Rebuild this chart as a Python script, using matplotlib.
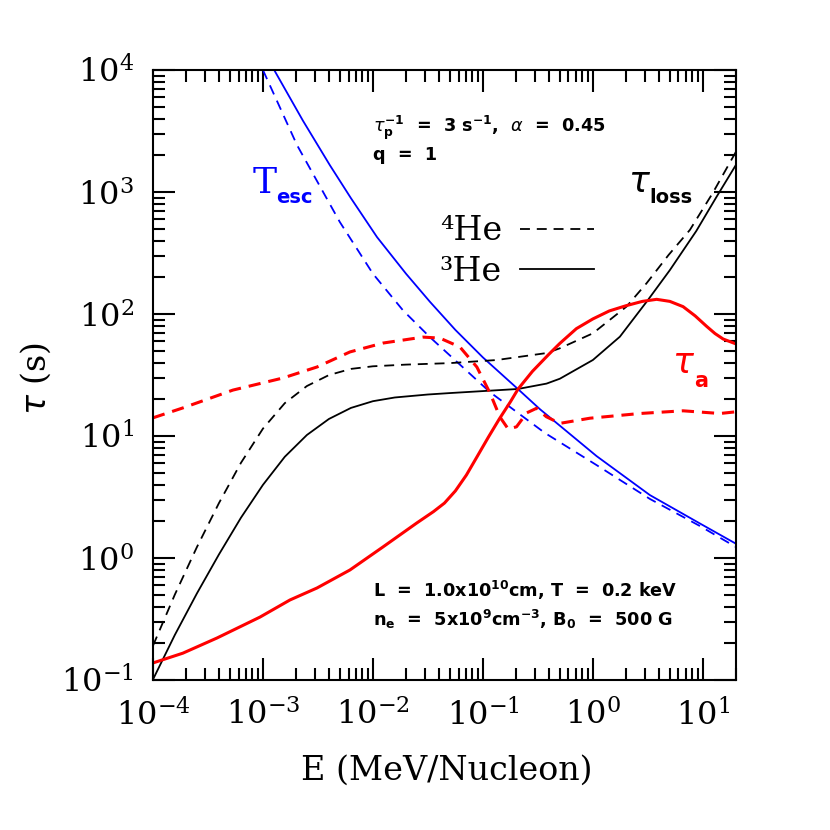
import numpy as np
import matplotlib.pyplot as plt
from matplotlib.lines import Line2D
from matplotlib.ticker import LogLocator, NullFormatter

plt.rcParams['font.family'] = 'DejaVu Serif'
plt.rcParams['mathtext.fontset'] = 'dejavusans'

# escape time T_esc (blue)
e_esc3 = [1.23e-3, 2.31e-3, 4.06e-3, 6.31e-3, 1.09e-2, 2.0e-2, 3.30e-2, 5.62e-2, 0.10, 0.208,
          0.330, 1.08, 3.30, 9.4, 20.0]
tau_esc3 = [10470, 3846, 1660, 891, 427, 214, 126, 74.1, 44.1, 24.3,
            16.6, 6.85, 3.28, 1.92, 1.31]
e_esc4 = [1.0e-3, 2.04e-3, 5.0e-3, 1.0e-2, 1.88e-2, 3.30e-2, 0.116, 0.366, 1.08, 3.30, 9.4, 20.0]
tau_esc4 = [1.0e4, 2427, 568, 214, 107, 64.6, 22.9, 10.6, 5.78, 3.05, 1.83, 1.23]

# loss time tau_loss (black)
e_loss3 = [1.0e-4, 1.58e-4, 2.51e-4, 3.98e-4, 6.31e-4, 1.0e-3, 1.58e-3, 2.51e-3, 3.98e-3, 6.31e-3,
           1.0e-2, 1.58e-2, 3.16e-2, 5.01e-2, 0.208, 0.379, 0.501, 1.0, 1.76, 3.16,
           5.01, 8.71, 13.3, 20.0]
tau_loss3 = [0.101, 0.234, 0.513, 1.07, 2.14, 3.98, 6.76, 10.2, 13.8, 17.0,
             19.3, 20.7, 21.9, 22.5, 24.3, 26.9, 29.5, 42.0, 65.2, 130,
             229, 479, 912, 1670]
e_loss4 = [1.0e-4, 1.58e-4, 2.51e-4, 3.98e-4, 6.31e-4, 1.0e-3, 1.58e-3, 2.51e-3, 3.98e-3, 6.31e-3,
           1.0e-2, 2.0e-2, 5.01e-2, 0.134, 0.38, 0.501, 1.0, 2.02, 3.08, 4.88,
           7.62, 12.3, 20.0]
tau_loss4 = [0.191, 0.501, 1.23, 2.82, 6.03, 11.5, 18.6, 25.7, 31.6, 35.5,
             37.3, 38.5, 39.6, 42.0, 47.9, 52.4, 69.5, 115, 179, 305,
             489, 982, 2140]

# acceleration time tau_a (red)
e_acc3 = [1.0e-4, 1.87e-4, 3.82e-4, 9.4e-4, 1.76e-3, 3.10e-3, 6.18e-3, 1.23e-2, 2.51e-2, 3.55e-2,
          4.47e-2, 5.62e-2, 7.08e-2, 8.91e-2, 0.112, 0.141, 0.178, 0.209, 0.282, 0.398,
          0.501, 0.708, 1.0, 1.41, 2.0, 2.82, 3.80, 5.01, 6.61, 8.51, 10.8, 12.9, 15.3, 20.0]
tau_acc3 = [0.138, 0.166, 0.221, 0.328, 0.453, 0.568, 0.798, 1.23, 1.94, 2.40,
            2.82, 3.55, 4.79, 6.84, 9.77, 13.8, 19.1, 24.3, 33.9, 46.8,
            57.5, 75.9, 91.2, 106, 117, 127, 132, 127, 115, 96.6, 79.4, 69.2, 62.4, 56.9]
e_acc4 = [1.0e-4, 1.87e-4, 5.33e-4, 1.52e-3, 3.10e-3, 6.18e-3, 1.23e-2, 2.85e-2, 4.06e-2, 6.18e-2,
          8.81e-2, 0.116, 0.143, 0.170, 0.202, 0.251, 0.308, 0.377, 0.501, 0.94, 2.67, 6.6, 14.3, 20.0]
tau_acc4 = [14.1, 17.0, 23.8, 29.9, 36.8, 48.9, 57.8, 64.7, 63.5, 53.7,
            36.8, 22.5, 14.3, 11.4, 11.9, 15.5, 16.9, 14.4, 12.7, 14.0, 15.3, 16.1, 15.3, 15.8]

fig = plt.figure(figsize=(8.3, 8.3), dpi=100)
ax = fig.add_axes([0.1843, 0.1807, 0.7024, 0.7349])
ax.set_xscale('log')
ax.set_yscale('log')

ax.plot(e_esc3, tau_esc3, color='blue', lw=1.3)
ax.plot(e_esc4, tau_esc4, color='blue', lw=1.3, dashes=(5.5, 3.8))
ax.plot(e_loss3, tau_loss3, color='black', lw=1.3)
ax.plot(e_loss4, tau_loss4, color='black', lw=1.3, dashes=(5.5, 3.8))
ax.plot(e_acc3, tau_acc3, color='red', lw=2.2)
ax.plot(e_acc4, tau_acc4, color='red', lw=2.2, dashes=(4.0, 2.6))

ax.set_xlim(1e-4, 20)
ax.set_ylim(0.1, 1e4)

for axis in (ax.xaxis, ax.yaxis):
    axis.set_major_locator(LogLocator(base=10, numticks=20))
    axis.set_minor_locator(LogLocator(base=10, subs=np.arange(2, 10), numticks=50))
    axis.set_minor_formatter(NullFormatter())

ax.tick_params(which='both', direction='in', top=True, right=True, width=1.5, color='black')
ax.tick_params(which='major', length=16, pad=14, labelsize=23)
ax.tick_params(which='minor', length=8.5)
for s in ax.spines.values():
    s.set_linewidth(1.5)

ax.set_xlabel('E (MeV/Nucleon)', fontsize=24)
ax.xaxis.set_label_coords(0.504, -0.122)
ax.set_ylabel(r'$\tau$ (s)', fontsize=24)
ax.yaxis.set_label_coords(-0.172, 0.495)

# curve labels
ax.text(0.171, 0.798, 'T', color='blue', fontsize=26, transform=ax.transAxes)
ax.text(0.212, 0.782, 'esc', color='blue', fontsize=14, family='DejaVu Sans',
        fontweight='bold', transform=ax.transAxes)
ax.text(0.815, 0.800, r'$\tau$', color='black', fontsize=25, transform=ax.transAxes)
ax.text(0.852, 0.782, 'loss', color='black', fontsize=14, family='DejaVu Sans',
        fontweight='bold', transform=ax.transAxes)
ax.text(0.89, 0.503, r'$\tau$', color='red', fontsize=25, transform=ax.transAxes)
ax.text(0.928, 0.48, 'a', color='red', fontsize=15, family='DejaVu Sans',
        fontweight='bold', transform=ax.transAxes)

# parameter notes
note_kw = dict(fontsize=12.7, family='DejaVu Sans', fontweight='bold', transform=ax.transAxes)
ax.text(0.377, 0.898, r'$\tau_{\mathbf{p}}^{\mathbf{-1}}$  =  3 s$^{\mathbf{-1}}$,  $\alpha$  =  0.45', **note_kw)
ax.text(0.377, 0.852, 'q  =  1', **note_kw)
ax.text(0.377, 0.136, r'L  =  1.0x10$^{\mathbf{10}}$cm, T  =  0.2 keV', **note_kw)
ax.text(0.377, 0.089, r'n$_{\mathbf{e}}$  =  5x10$^{\mathbf{9}}$cm$^{\mathbf{-3}}$, B$_{\mathbf{0}}$  =  500 G', **note_kw)

h4 = Line2D([], [], color='black', lw=1.3, dashes=(5.5, 3.8))
h3 = Line2D([], [], color='black', lw=1.3)
ax.legend([h4, h3], ['⁴He', '³He'], loc='upper left', bbox_to_anchor=(0.492, 0.762),
          frameon=False, markerfirst=False, fontsize=24, handlelength=2.2,
          handletextpad=0.55, labelspacing=0.25, borderpad=0, borderaxespad=0)

fig.savefig('out.png', dpi=100)
